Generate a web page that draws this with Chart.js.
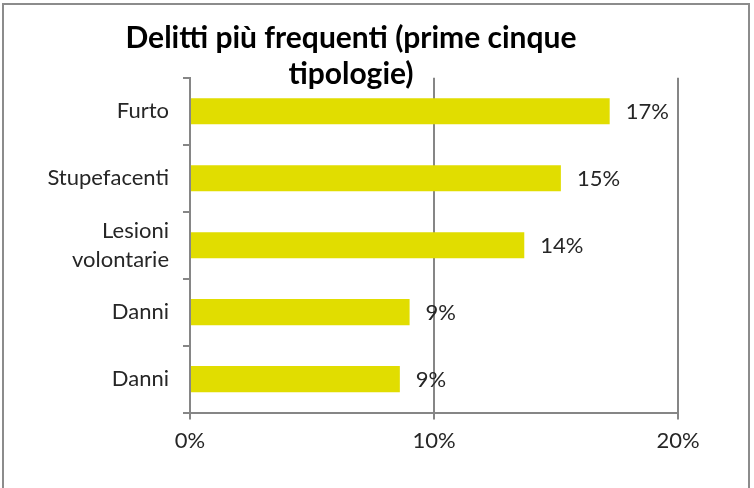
<!DOCTYPE html>
<html>
<head>
<meta charset="utf-8">
<script src="https://cdn.jsdelivr.net/npm/chart.js@4.4.0/dist/chart.umd.min.js"></script>
<style>
    html, body { margin: 0; padding: 0; background: #fff; }
    #wrap { position: relative; width: 754px; height: 488px; overflow: hidden; }
    #frame { position: absolute; left: 2px; top: 3px; width: 744px; height: 500px; border: 2px solid #8c8c8c; pointer-events: none; }
    canvas { position: absolute; left: 0; top: 0; }
</style>
</head>
<body>
<div id="wrap">
    <canvas id="chart" width="754" height="488"></canvas>
    <div id="frame"></div>
</div>
<script>
const categories = ['Furto', 'Stupefacenti', ['Lesioni', 'volontarie'], 'Danni', 'Danni'];
const percentages = [17.2, 15.2, 13.7, 9.0, 8.6];
const xTicks = [0, 10, 20];
const titleLines = ['Delitti più frequenti (prime cinque', 'tipologie)'];

const gridColor = '#868686';
const textColor = '#262626';
const barColor = '#E1DD00';

// draws the "17%" style labels after the bar ends
const barLabels = {
    id: 'barLabels',
    afterDatasetsDraw(chart) {
        const ctx = chart.ctx;
        const meta = chart.getDatasetMeta(0);
        ctx.save();
        ctx.font = '22px Lato';
        ctx.fillStyle = textColor;
        ctx.textAlign = 'left';
        ctx.textBaseline = 'middle';
        meta.data.forEach((bar, i) => {
            ctx.fillText(Math.round(percentages[i]) + '%', bar.x + 16, bar.y + 1);
        });
        ctx.restore();
    }
};

new Chart(document.getElementById('chart').getContext('2d'), {
    type: 'bar',
    data: {
        labels: categories,
        datasets: [{
            data: percentages,
            backgroundColor: barColor,
            borderWidth: 0,
            categoryPercentage: 1,
            barPercentage: 0.39
        }]
    },
    plugins: [barLabels],
    options: {
        indexAxis: 'y',
        responsive: false,
        animation: false,
        layout: { padding: { left: 24, right: 76, top: 0, bottom: 26 } },
        plugins: {
            legend: { display: false },
            tooltip: { enabled: false },
            title: {
                display: true,
                text: titleLines,
                color: '#000',
                font: { family: 'Lato', size: 30, weight: 'bold', lineHeight: 1.18 },
                padding: { top: 21, bottom: -14 }
            }
        },
        scales: {
            x: {
                min: 0,
                max: 20,
                afterBuildTicks: (s) => { s.ticks = xTicks.map(v => ({ value: v })); },
                ticks: {
                    color: textColor,
                    font: { family: 'Lato', size: 22 },
                    padding: 8,
                    callback: (v) => v + '%'
                },
                grid: { color: gridColor, lineWidth: 2, tickLength: 7 },
                border: { color: gridColor, width: 2 }
            },
            y: {
                afterFit: (s) => { s.width = 166; },
                ticks: {
                    color: textColor,
                    font: { family: 'Lato', size: 22, lineHeight: 1.3 },
                    padding: 14
                },
                grid: { drawOnChartArea: false, color: gridColor, lineWidth: 2, tickLength: 7 },
                border: { color: gridColor, width: 2 }
            }
        }
    }
});
</script>
</body>
</html>
